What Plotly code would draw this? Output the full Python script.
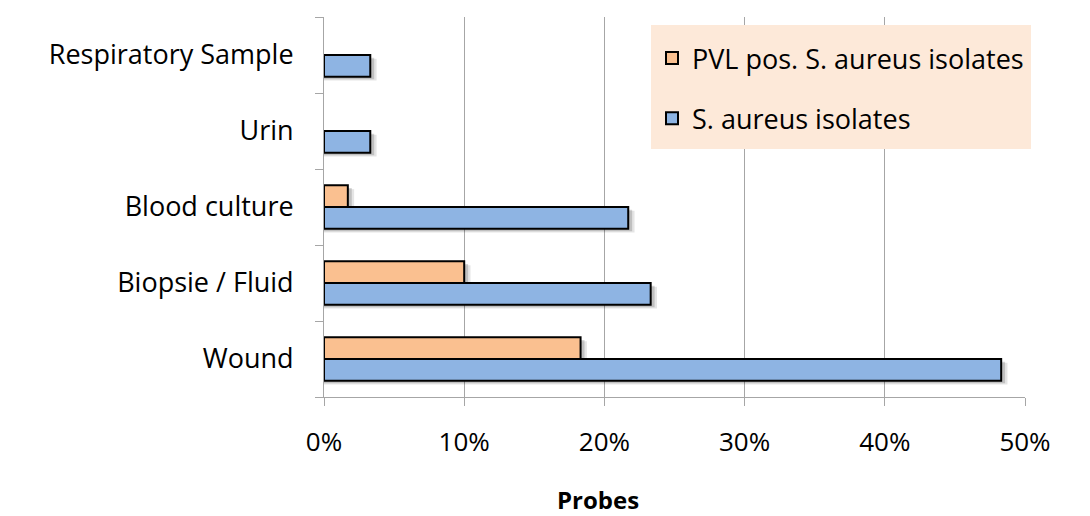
import plotly.graph_objects as go

# Sample categories (bottom to top) and share of isolates per sample type
categories = ["Wound", "Biopsie / Fluid", "Blood culture", "Urin", "Respiratory Sample"]
s_aureus_pct = [48.3, 23.3, 21.7, 3.3, 3.3]
pvl_pos_pct = [18.3, 10.0, 1.7, None, None]
x_ticks = [0, 10, 20, 30, 40, 50]
x_tick_labels = ["0%", "10%", "20%", "30%", "40%", "50%"]

BAR_W = 0.285
FONT = "Open Sans"
FS = 27

fig = go.Figure()


def shadow(values, offset):
    # soft drop shadow drawn under each bar, nudged right and down
    for grow, drop, alpha in [(0.45, 0.05, 0.10), (0.28, 0.035, 0.16)]:
        fig.add_trace(go.Bar(
            y=categories,
            x=[None if v is None else v + grow for v in values],
            orientation="h", width=BAR_W, offset=offset - drop,
            marker=dict(color=f"rgba(0,0,0,{alpha})", line=dict(width=0)),
            showlegend=False, hoverinfo="skip",
        ))


shadow(s_aureus_pct, -BAR_W)
shadow(pvl_pos_pct, 0)

fig.add_trace(go.Bar(
    y=categories, x=s_aureus_pct, orientation="h",
    name="S. aureus isolates", width=BAR_W, offset=-BAR_W,
    marker=dict(color="#8EB4E3", line=dict(color="#000000", width=2)),
    legendgroup="b", legendrank=2,
))
fig.add_trace(go.Bar(
    y=categories, x=pvl_pos_pct, orientation="h",
    name="PVL pos. S. aureus isolates", width=BAR_W, offset=0,
    marker=dict(color="#FAC090", line=dict(color="#000000", width=2)),
    legendgroup="a", legendrank=1,
))

fig.update_layout(
    width=1090, height=516,
    margin=dict(l=324, r=65, t=17, b=119),
    paper_bgcolor="white", plot_bgcolor="white",
    barmode="overlay",
    font=dict(family=FONT, size=FS, color="#000000"),
    showlegend=True,
    legend=dict(
        x=(652 - 324) / 701, y=(397 - 34) / 380,
        xref="paper", yref="paper",
        xanchor="left", yanchor="top",
        bgcolor="rgba(0,0,0,0)",
        font=dict(family=FONT, size=FS, color="#000000"),
        traceorder="grouped", tracegroupgap=22,
        itemwidth=30,
    ),
    xaxis=dict(
        range=[0, 50], tickvals=x_ticks, ticktext=x_tick_labels,
        showgrid=True, gridcolor="#A6A6A6", gridwidth=1,
        showline=True, linecolor="#A6A6A6", linewidth=1,
        ticks="outside", ticklen=8, tickcolor="#A6A6A6",
        ticklabelstandoff=14, zeroline=False,
        tickfont=dict(family=FONT, size=FS - 1, color="#000000"),
    ),
    yaxis=dict(
        categoryorder="array", categoryarray=categories,
        showline=True, linecolor="#A6A6A6", linewidth=1,
        ticks="outside", ticklen=8, tickcolor="#A6A6A6",
        tickson="boundaries", ticklabelstandoff=24,
        showgrid=False, zeroline=False,
        tickfont=dict(family=FONT, size=FS, color="#000000"),
    ),
    shapes=[dict(
        type="rect", xref="paper", yref="paper",
        x0=(651 - 324) / 701, x1=(1031 - 324) / 701,
        y0=(397 - 149) / 380, y1=(397 - 25) / 380,
        fillcolor="#FDE9D9", line=dict(width=0), layer="above",
    )],
    annotations=[dict(
        text="<b>Probes</b>", xref="paper", yref="paper",
        x=(598 - 324) / 701, y=(397 - 499) / 380,
        xanchor="center", yanchor="middle", showarrow=False,
        borderpad=0,
        font=dict(family=FONT, size=24, color="#000000"),
    )],
)

fig.write_html("out.html")
